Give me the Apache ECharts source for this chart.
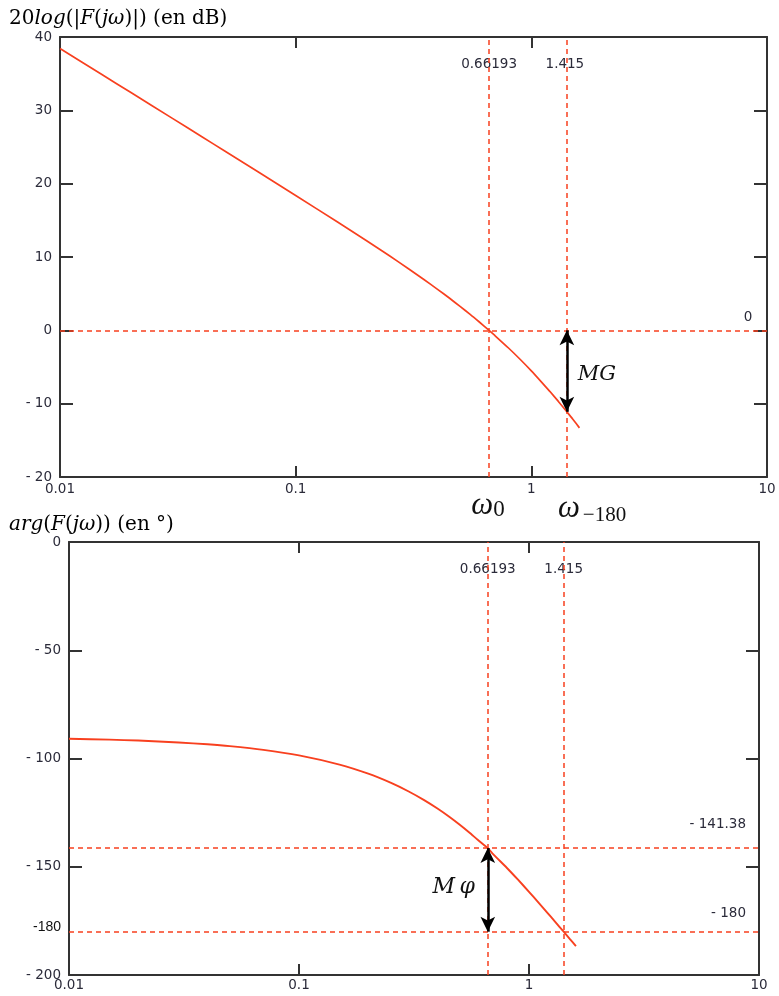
<!DOCTYPE html>
<html>
<head>
<meta charset="utf-8">
<script src="https://cdn.jsdelivr.net/npm/echarts@6/dist/echarts.min.js"></script>
<style>
html,body{margin:0;padding:0;background:#fff}
#c{width:779px;height:996px}
</style>
</head>
<body>
<div id="c"></div>
<script>
// Bode diagram of the open-loop transfer function F(jω): gain (dB) and phase (°)
const omega = [0.01,0.015,0.02,0.03,0.04,0.05,0.07,0.1,0.15,0.2,0.25,0.3,0.35,0.4,0.45,0.5,0.55,0.6,0.66193,0.7,0.8,0.9,1.0,1.1,1.2,1.3,1.415,1.5,1.6];
const gainDb = [38.44,34.92,32.42,28.90,26.40,24.45,21.52,18.39,14.80,12.21,10.16,8.43,6.93,5.59,4.37,3.23,2.18,1.17,0,-0.70,-2.41,-4.01,-5.53,-6.99,-8.35,-9.66,-11.11,-12.12,-13.30];
const phaseDeg = [-90.86,-91.29,-91.72,-92.58,-93.44,-94.29,-96.01,-98.57,-102.82,-107.02,-111.17,-115.23,-119.22,-123.11,-126.91,-130.61,-134.19,-137.66,-141.38,-144.28,-150.46,-156.22,-161.57,-166.54,-171.15,-175.45,-180,-183.18,-186.65];

const omega0 = 0.66193;        // gain crossover frequency
const omega180 = 1.415;        // phase crossover frequency
const gainRef = 0;             // 0 dB line
const gainAtOmega180 = -11.11; // gain at the phase crossover
const phaseAtOmega0 = -141.38; // phase at the gain crossover
const phaseLimit = -180;

const freqRange = [0.01, 10];
const gainRange = [-20, 40];
const gainStep = 10;
const phaseRange = [-200, 0];
const phaseStep = 50;

const RED = '#f8401f';
const INK = '#2b2b3a';
const AXIS = '#333333';
const SANS = '"DejaVu Sans", Verdana, sans-serif';
const SERIF = '"DejaVu Serif", "Liberation Serif", serif';
const LBL = 13.5;

function tickFmt(v) {
  return v < 0 ? '- ' + Math.abs(v) : String(v);
}
function freqFmt(v) {
  return String(+(+v).toPrecision(3));
}

function xAxisDef(grid, pos) {
  const main = pos === 'bottom';
  return {
    type: 'log', logBase: 10, gridIndex: grid, position: pos,
    min: freqRange[0], max: freqRange[1],
    axisLine: { show: true, onZero: false, lineStyle: { color: AXIS, width: 2 } },
    axisTick: { show: true, inside: true, length: 11, lineStyle: { color: AXIS, width: 2 } },
    axisLabel: { show: main, color: INK, fontFamily: SANS, fontSize: LBL, margin: grid === 0 ? 5 : 3, formatter: freqFmt },
    splitLine: { show: false }, minorTick: { show: false }
  };
}
function yAxisDef(grid, pos, range, step) {
  const main = pos === 'left';
  return {
    type: 'value', gridIndex: grid, position: pos,
    min: range[0], max: range[1], interval: step,
    axisLine: { show: true, onZero: false, lineStyle: { color: AXIS, width: 2 } },
    axisTick: { show: true, inside: true, length: 13, lineStyle: { color: AXIS, width: 2 } },
    axisLabel: { show: main, color: INK, fontFamily: SANS, fontSize: LBL, margin: 8, formatter: tickFmt },
    splitLine: { show: false }
  };
}

const dashed = { color: RED, type: [5, 4], width: 1.5 };
function guideLines(items) {
  return { symbol: 'none', silent: true, animation: false, label: { show: false }, lineStyle: dashed, data: items };
}
function arrowSeries(xi, yi, x, y1, y2) {
  return {
    type: 'line', xAxisIndex: xi, yAxisIndex: yi, silent: true, animation: false,
    data: [[x, y1], [x, y2]], showSymbol: false, symbol: 'none',
    lineStyle: { opacity: 0 },
    markLine: {
      silent: true, animation: false, symbol: ['arrow', 'arrow'], symbolSize: [11, 15],
      label: { show: false },
      lineStyle: { color: '#000', type: 'solid', width: 2.5 },
      data: [[{ coord: [x, y1] }, { coord: [x, y2] }]]
    }
  };
}

const chart = echarts.init(document.getElementById('c'), null, { renderer: 'canvas' });

const option = {
  animation: false,
  backgroundColor: '#fff',
  grid: [
    { left: 60, top: 37, width: 707, height: 440 },
    { left: 69, top: 542, width: 690, height: 433 }
  ],
  xAxis: [xAxisDef(0, 'bottom'), xAxisDef(0, 'top'), xAxisDef(1, 'bottom'), xAxisDef(1, 'top')],
  yAxis: [
    yAxisDef(0, 'left', gainRange, gainStep), yAxisDef(0, 'right', gainRange, gainStep),
    yAxisDef(1, 'left', phaseRange, phaseStep), yAxisDef(1, 'right', phaseRange, phaseStep)
  ],
  series: [
    {
      type: 'line', xAxisIndex: 0, yAxisIndex: 0,
      data: omega.map((w, i) => [w, gainDb[i]]),
      showSymbol: false, symbol: 'none', smooth: 0.2,
      lineStyle: { color: RED, width: 1.7 },
      markLine: guideLines([{ xAxis: omega0 }, { xAxis: omega180 }, { yAxis: gainRef }])
    },
    {
      type: 'line', xAxisIndex: 2, yAxisIndex: 2,
      data: omega.map((w, i) => [w, phaseDeg[i]]),
      showSymbol: false, symbol: 'none', smooth: 0.2,
      lineStyle: { color: RED, width: 1.9 },
      markLine: guideLines([{ xAxis: omega0 }, { xAxis: omega180 }, { yAxis: phaseAtOmega0 }, { yAxis: phaseLimit }])
    },
    arrowSeries(0, 0, omega180, gainRef, gainAtOmega180),
    arrowSeries(2, 2, omega0, phaseAtOmega0, phaseLimit)
  ]
};
chart.setOption(option);

// Annotations placed from the axes' own scales
const topPx = (x, y) => chart.convertToPixel({ xAxisIndex: 0, yAxisIndex: 0 }, [x, y]);
const botPx = (x, y) => chart.convertToPixel({ xAxisIndex: 2, yAxisIndex: 2 }, [x, y]);

const g1 = option.grid[0], g2 = option.grid[1];
const topRight = g1.left + g1.width, botRight = g2.left + g2.width;
const topBottom = g1.top + g1.height;

function txt(text, x, y, font, align, extra) {
  return {
    type: 'text', silent: true,
    style: Object.assign({ text: text, x: x, y: y, font: font, fill: INK, align: align || 'center', verticalAlign: 'middle' }, extra || {})
  };
}

const mathRich = {
  r: { fontFamily: SERIF, fontSize: 20, color: '#111' },
  i: { fontFamily: SERIF, fontSize: 20, fontStyle: 'italic', color: '#111' }
};

const graphics = [];
// axis titles
graphics.push({
  type: 'text', silent: true,
  style: { x: 9, y: 19, verticalAlign: 'middle', align: 'left',
    text: '{r|20}{i|log}{r|(|}{i|F}{r|(}{i|jω}{r|)|) (en dB)}', rich: mathRich }
});
graphics.push({
  type: 'text', silent: true,
  style: { x: 9, y: 525, verticalAlign: 'middle', align: 'left',
    text: '{i|arg}{r|(}{i|F}{r|(}{i|jω}{r|)) (en °)}', rich: mathRich }
});

// frequency markers, top chart
const t0 = topPx(omega0, gainRef), t180 = topPx(omega180, gainAtOmega180);
graphics.push(txt('0.66193', t0[0], g1.top + 27, LBL + 'px ' + SANS));
graphics.push(txt('1.415', t180[0] - 2, g1.top + 27, LBL + 'px ' + SANS));
graphics.push(txt('0', topRight - 19, t0[1] - 13, LBL + 'px ' + SANS));
// gain margin label
graphics.push(txt('MG', t180[0] + 11, (t0[1] + t180[1]) / 2 + 3, 'italic 21px ' + SERIF, 'left', { fill: '#111' }));

// ω labels under the top chart
graphics.push(txt('ω', t0[0] - 7, topBottom + 29, 'italic 31px "Liberation Serif", serif', 'center', { fill: '#111' }));
graphics.push(txt('0', t0[0] + 10, topBottom + 33, '23px "Liberation Serif", serif', 'center', { fill: '#111' }));
graphics.push(txt('ω', t180[0] + 2, topBottom + 32, 'italic 31px "Liberation Serif", serif', 'center', { fill: '#111' }));
graphics.push(txt('−180', t180[0] + 16, topBottom + 38, '21px "Liberation Serif", serif', 'left', { fill: '#111' }));

// bottom chart markers
const b0 = botPx(omega0, phaseAtOmega0), b180 = botPx(omega180, phaseLimit);
graphics.push(txt('0.66193', b0[0], g2.top + 27, LBL + 'px ' + SANS));
graphics.push(txt('1.415', b180[0], g2.top + 27, LBL + 'px ' + SANS));
graphics.push(txt('- 141.38', botRight - 13, b0[1] - 24, LBL + 'px ' + SANS, 'right'));
graphics.push(txt('- 180', botRight - 13, b180[1] - 18, LBL + 'px ' + SANS, 'right'));
graphics.push(txt('-180', g2.left - 8, b180[1] - 5, '14px "Liberation Sans", Arial, sans-serif', 'right', { fill: '#111' }));
// phase margin label
graphics.push(txt('M\u2009φ', b0[0] - 13, (b0[1] + b180[1]) / 2 - 3, 'italic 22px ' + SERIF, 'right', { fill: '#111' }));

chart.setOption({ graphic: graphics });
</script>
</body>
</html>
